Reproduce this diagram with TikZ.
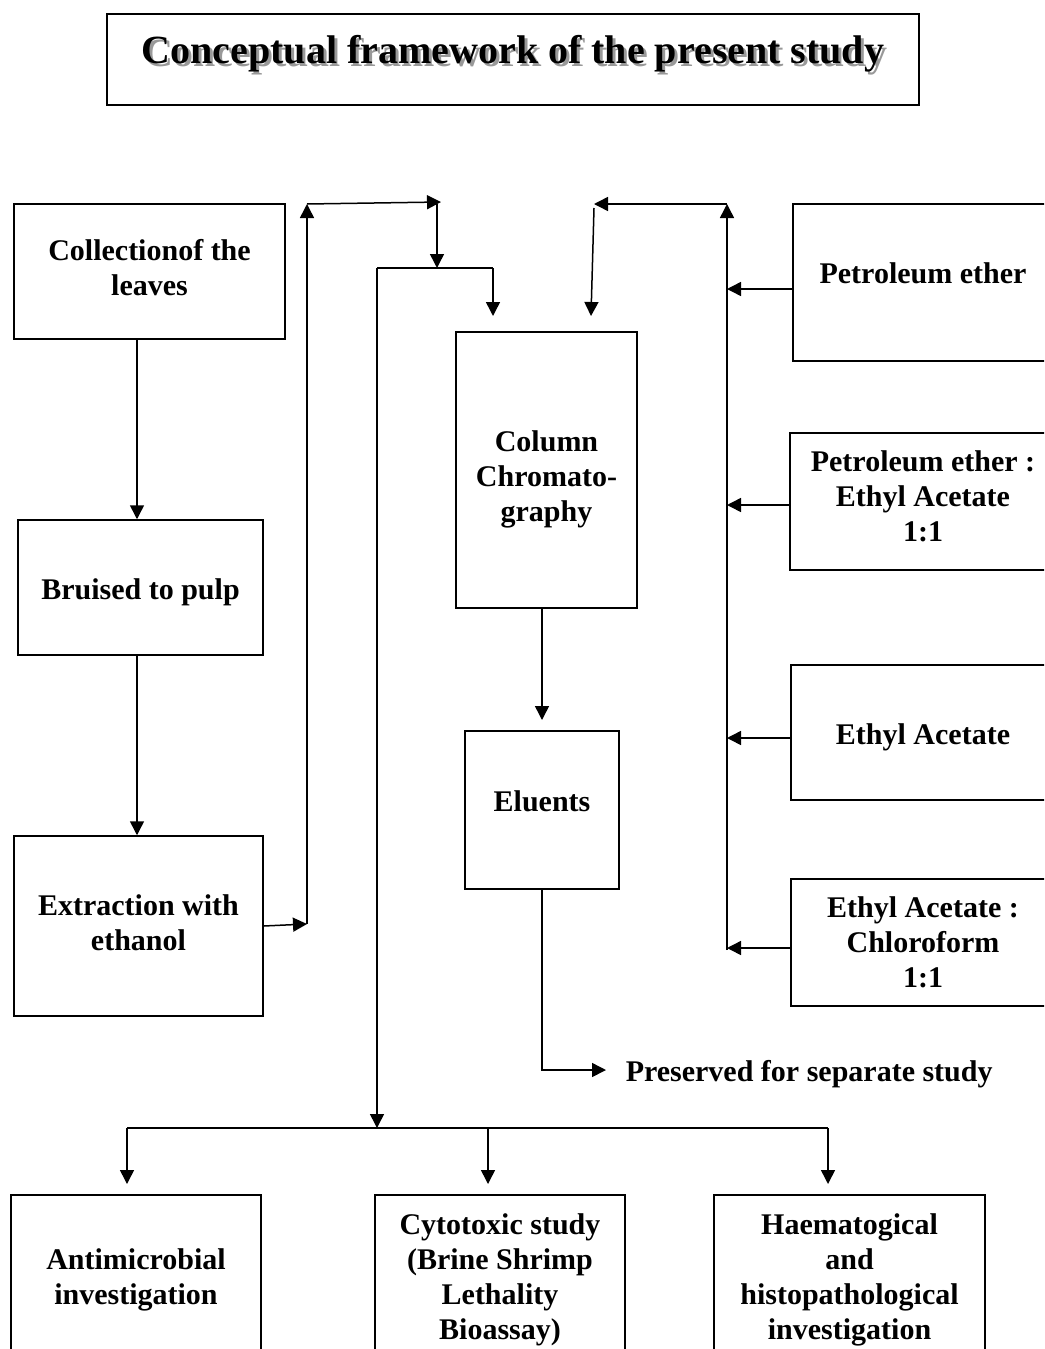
\documentclass[tikz,border=0pt]{standalone}
\usepackage{fontspec}
\setmainfont{Liberation Serif}
\usetikzlibrary{arrows.meta}
\begin{document}
\begin{tikzpicture}[x=1pt,y=-1pt, line width=1.5pt,
 box/.style={draw, line width=1.5pt, inner sep=0pt},
 arr/.style={-{Triangle[length=14pt,width=14pt]}},
 lbl/.style={inner sep=0pt, align=center, font=\bfseries\fontsize{30}{35}\selectfont},
]
\useasboundingbox (0,0) rectangle (1044,1349);
\clip (0,0) rectangle (1044,1349);
% title
\node[draw, line width=1.5pt, minimum width=812, minimum height=91, inner sep=0pt] (titlebox) at (513,59.5) {};
\node[inner sep=0pt, text=black!40, font=\bfseries\fontsize{40}{46}\selectfont] (titleshadow) at (516,57) {Conceptual framework of the present study};
\node[inner sep=0pt, font=\bfseries\fontsize{40}{46}\selectfont] (title) at (513,54) {Conceptual framework of the present study};
% left column
\node[box, minimum width=271, minimum height=135] (collect) at (149.5,271.5) {};
\node[lbl] (collect-t) at ([yshift=4pt]collect.center) {Collectionof the\\leaves};
\node[box, minimum width=245, minimum height=135] (bruised) at (140.5,587.5) {};
\node[lbl] (bruised-t) at ([yshift=-5pt]bruised.center) {Bruised to pulp};
\node[box, minimum width=249, minimum height=180] (extract) at (138.5,926) {};
\node[lbl] (extract-t) at ([yshift=3pt]extract.center) {Extraction with\\ethanol};
% middle
\node[box, minimum width=181, minimum height=276] (column) at (546.5,470) {};
\node[lbl] (column-t) at ([yshift=-9pt]column.center) {Column\\Chromato-\\graphy};
\node[box, minimum width=154, minimum height=158] (eluents) at (542,810) {};
\node[lbl] (eluents-t) at ([yshift=9pt]eluents.center) {Eluents};
\node[lbl, anchor=west] (pres) at (625,1074) {Preserved for separate study};
% right
\node[box, minimum width=260, minimum height=157] (pe) at (923,282.5) {};
\node[lbl] (pe-t) at ([yshift=9pt]pe.center) {Petroleum ether};
\node[box, minimum width=266, minimum height=137] (peea) at (923,501.5) {};
\node[lbl] (peea-t) at ([yshift=5pt]peea.center) {Petroleum ether :\\Ethyl Acetate\\1:1};
\node[box, minimum width=264, minimum height=135] (ea) at (923,732.5) {};
\node[lbl] (ea-t) at ([yshift=-5pt]ea.center) {Ethyl Acetate};
\node[box, minimum width=264, minimum height=127] (eac) at (923,942.5) {};
\node[lbl] (eac-t) at (eac.center) {Ethyl Acetate :\\Chloroform\\1:1};
% bottom
\node[box, minimum width=250, minimum height=162] (anti) at (136,1276) {};
\node[lbl] (anti-t) at ([yshift=-4pt]anti.center) {Antimicrobial\\investigation};
\node[box, minimum width=250, minimum height=162] (cyto) at (500,1276) {};
\node[lbl] (cyto-t) at ([yshift=-4pt]cyto.center) {Cytotoxic study\\(Brine Shrimp\\Lethality\\Bioassay)};
\node[box, minimum width=271, minimum height=162] (haem) at (849.5,1276) {};
\node[lbl] (haem-t) at ([yshift=-4pt]haem.center) {Haematogical\\and\\histopathological\\investigation};
% coordinates
\coordinate (j1) at (307,924);
\coordinate (j2) at (307,204);
\coordinate (j3) at (441,202);
\coordinate (j4) at (437,204);
\coordinate (j5) at (437,268);
\coordinate (sl) at (377,268);
\coordinate (sr) at (493,268);
\coordinate (sre) at (493,316);
\coordinate (down) at (377,1128);
\coordinate (bl) at (127,1128);
\coordinate (bm) at (488,1128);
\coordinate (br) at (828,1128);
\coordinate (blt) at (127,1184);
\coordinate (bmt) at (488,1184);
\coordinate (brt) at (828,1184);
\coordinate (r0) at (727,950);
\coordinate (r1) at (727,204);
\coordinate (r2) at (594,204);
\coordinate (r3) at (594,208);
\coordinate (r4) at (591,316);
\coordinate (a1) at (727,289);
\coordinate (a2) at (727,505);
\coordinate (a3) at (727,738);
\coordinate (a4) at (727,948);
\coordinate (c1) at (542,720);
\coordinate (e1) at (542,1070);
\coordinate (e2) at (606,1070);
% left chain
\draw[arr] ([xshift=-12.5pt]collect.south) -- ([xshift=-3.5pt]bruised.north);
\draw[arr] ([xshift=-3.5pt]bruised.south) -- ([xshift=-1.5pt]extract.north);
\draw[arr] (extract.east) -- (j1);
\draw[arr] (j1) -- (j2);
\draw[arr] (j2) -- (j3);
\draw[arr] (j4) -- (j5);
\draw (sl) -- (sr);
\draw[arr] (sr) -- (sre);
\draw[arr] (sl) -- (down);
\draw (bl) -- (br);
\draw[arr] (bl) -- (blt);
\draw[arr] (bm) -- (bmt);
\draw[arr] (br) -- (brt);
% right chain
\draw[arr] (r0) -- (r1);
\draw[arr] (r1) -- (r2);
\draw[arr] (r3) -- (r4);
\draw[arr] ([yshift=-6.5pt]pe.west) -- (a1);
\draw[arr] ([yshift=-3.5pt]peea.west) -- (a2);
\draw[arr] ([yshift=-5.5pt]ea.west) -- (a3);
\draw[arr] ([yshift=-5.5pt]eac.west) -- (a4);
% middle
\draw[arr] ([xshift=-4.5pt]column.south) -- (c1);
\draw[arr] (eluents.south) -- (e1) -- (e2);
\end{tikzpicture}
\end{document}
